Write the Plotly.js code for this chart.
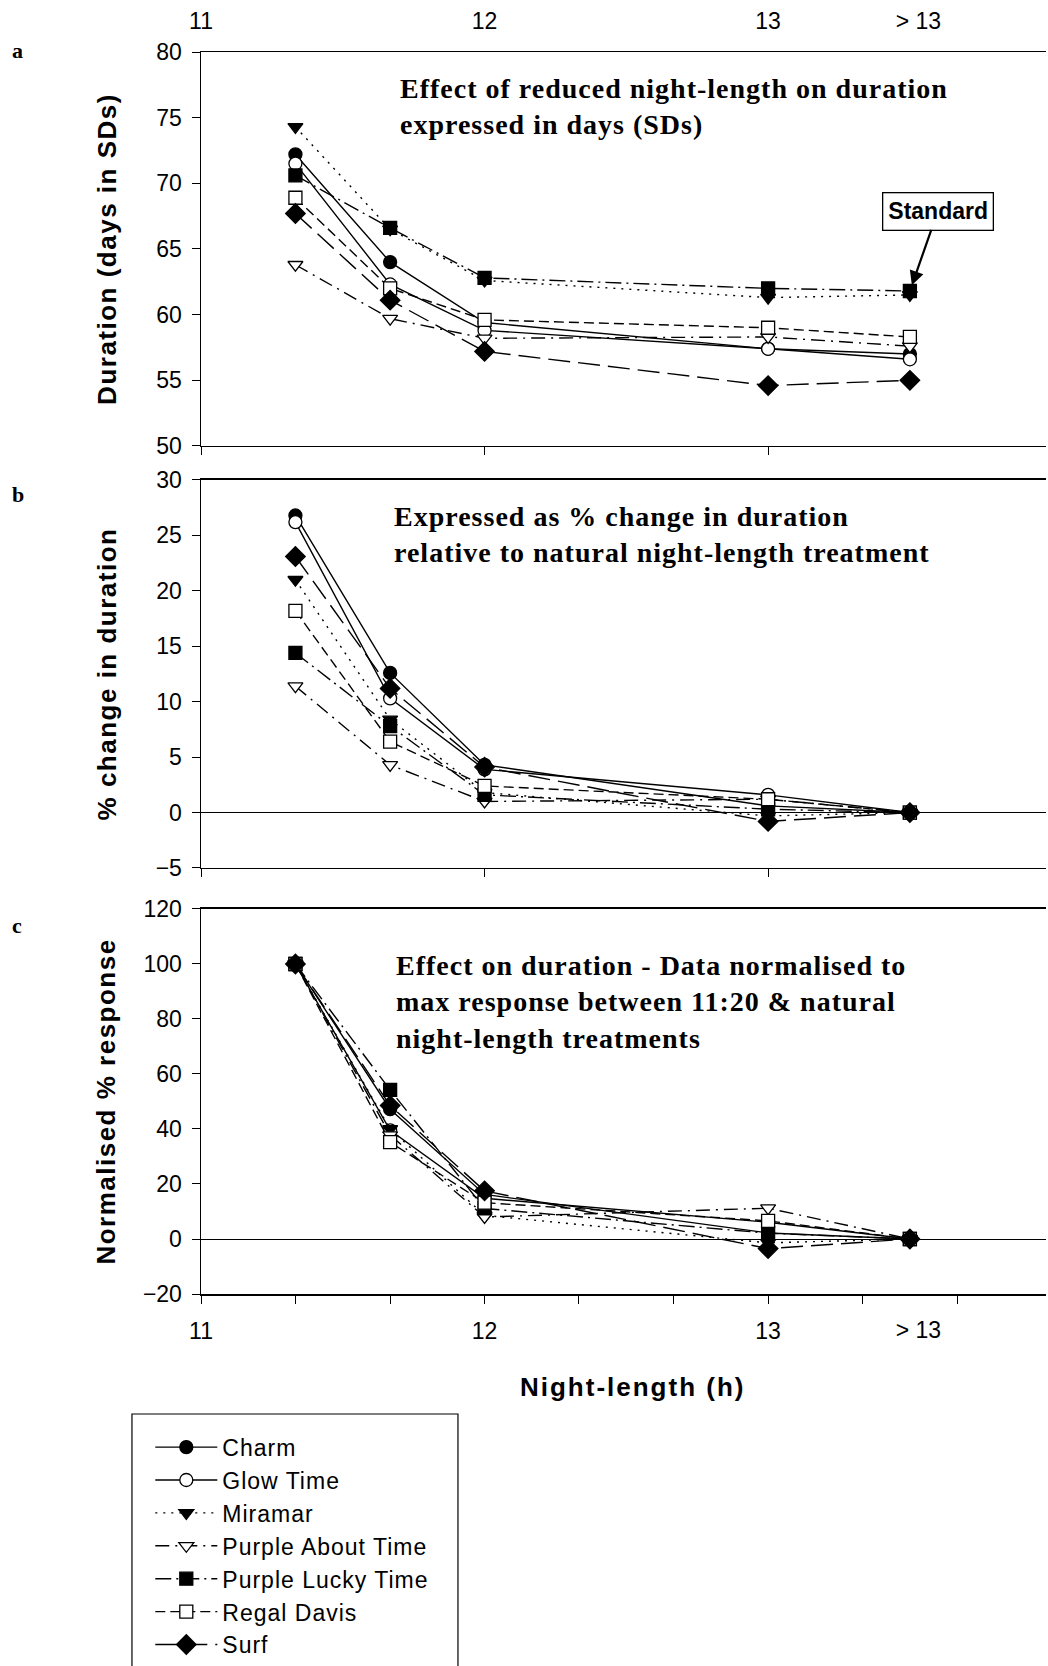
<!DOCTYPE html>
<html>
<head>
<meta charset="utf-8">
<script src="https://cdn.plot.ly/plotly-3.0.1.min.js"></script>
<style>
html,body{margin:0;padding:0;background:#fff;}
#chart{width:1048px;height:1666px;}
g.annotation[data-index="0"] text, g.annotation[data-index="1"] text, g.annotation[data-index="2"] text{letter-spacing:1px;}
.ytitle, .y2title, .y3title{letter-spacing:1.5px;}
.x3title{letter-spacing:2px;}
.legendtext{letter-spacing:1px;}
</style>
</head>
<body>
<div id="chart"></div>
<script>
// Night-length treatments (h); "> 13" = natural night-length, plotted at 13.5
const nightLength = [11.333, 11.667, 12, 13, 13.5];
const varieties = ['Charm', 'Glow Time', 'Miramar', 'Purple About Time', 'Purple Lucky Time', 'Regal Davis', 'Surf'];

// Panel a: duration (days in SDs)
const charmDays   = [72.2, 64.0, 59.4, 57.4, 57.0];
const glowDays    = [71.5, 62.3, 58.8, 57.4, 56.6];
const miramarDays = [74.3, 66.5, 62.6, 61.3, 61.5];
const pabtDays    = [63.8, 59.7, 58.2, 58.3, 57.6];
const pltDays     = [70.6, 66.6, 62.8, 62.0, 61.8];
const regalDays   = [68.9, 62.0, 59.6, 59.0, 58.3];
const surfDays    = [67.7, 61.1, 57.2, 54.6, 55.0];

// Panel b: % change in duration
const charmPct   = [26.8, 12.6, 4.3, 0.6, 0];
const glowPct    = [26.2, 10.3, 3.9, 1.6, 0];
const miramarPct = [21.0, 8.4, 1.8, -0.3, 0];
const pabtPct    = [11.4, 4.3, 1.0, 1.2, 0];
const pltPct     = [14.4, 7.8, 1.6, 0.3, 0];
const regalPct   = [18.2, 6.4, 2.4, 1.2, 0];
const surfPct    = [23.1, 11.2, 4.1, -0.8, 0];

// Panel c: normalised % response
const charmNorm   = [100, 47.2, 16.2, 2.2, 0];
const glowNorm    = [100, 39.5, 14.8, 6.1, 0];
const miramarNorm = [100, 40.0, 8.6, -1.4, 0];
const pabtNorm    = [100, 37.8, 8.0, 11.2, 0];
const pltNorm     = [100, 54.2, 11.1, 2.1, 0];
const regalNorm   = [100, 35.2, 13.2, 6.6, 0];
const surfNorm    = [100, 48.5, 17.5, -3.5, 0];

// Axis tick labels
const yTicksA = [50, 55, 60, 65, 70, 75, 80];
const yTicksB = [-5, 0, 5, 10, 15, 20, 25, 30];
const yTicksC = [-20, 0, 20, 40, 60, 80, 100, 120];
const xMainTicks = [11, 12, 13];
const xMainLabels = ['11', '12', '13'];
const xFineTicks = [11, 11.333, 11.667, 12, 12.333, 12.667, 13, 13.333, 13.667];
const xFineLabels = ['11', '', '', '12', '', '', '13', '', ''];
const xNaturalTick = [13.53];
const xNaturalLabel = ['> 13'];

const panelA = [charmDays, glowDays, miramarDays, pabtDays, pltDays, regalDays, surfDays];
const panelB = [charmPct, glowPct, miramarPct, pabtPct, pltPct, regalPct, surfPct];
const panelC = [charmNorm, glowNorm, miramarNorm, pabtNorm, pltNorm, regalNorm, surfNorm];

const styles = [
  {symbol: 'circle', fill: 'black', dash: 'solid'},
  {symbol: 'circle', fill: 'white', dash: 'solid'},
  {symbol: 'triangle-down', fill: 'black', dash: '2px,6px'},
  {symbol: 'triangle-down', fill: 'white', dash: '14px,6px,2px,6px'},
  {symbol: 'square', fill: 'black', dash: '16px,5px,2px,5px'},
  {symbol: 'square', fill: 'white', dash: '10px,5px'},
  {symbol: 'diamond', fill: 'black', dash: '22px,8px'}
];

const xRange = [11, 13.98];

const traces = [];
[[panelA, 'x', 'y', true], [panelB, 'x2', 'y2', false], [panelC, 'x3', 'y3', false]].forEach(([panel, xa, ya, leg]) => {
  panel.forEach((vals, i) => {
    const s = styles[i];
    traces.push({
      type: 'scatter', mode: 'lines+markers',
      x: nightLength, y: vals, xaxis: xa, yaxis: ya,
      name: varieties[i], legendgroup: varieties[i], showlegend: leg,
      line: {color: 'black', width: 1.4, dash: s.dash},
      marker: {symbol: s.symbol, size: s.symbol === 'diamond' ? 15 : 13, color: s.fill, line: {color: 'black', width: 1.3}}
    });
  });
});
// empty traces hosting the overlay label axes
traces.push({type: 'scatter', x: [], y: [], xaxis: 'x4', yaxis: 'y', showlegend: false, hoverinfo: 'skip'});
traces.push({type: 'scatter', x: [], y: [], xaxis: 'x5', yaxis: 'y3', showlegend: false, hoverinfo: 'skip'});

const sans = 'Liberation Sans, Arial, sans-serif';
const serif = 'Liberation Serif, Times New Roman, serif';
const tickFont = {family: sans, size: 23, color: 'black'};
const titleFont = {family: sans, size: 26, color: 'black', weight: 'bold'};

function xAxis(anchor, extra) {
  return Object.assign({
    anchor: anchor, range: xRange, showgrid: false, zeroline: false,
    showline: true, linecolor: 'black', linewidth: 1.5, mirror: true,
    tickmode: 'array', tickvals: xMainTicks, ticktext: ['', '', ''],
    ticks: 'outside', ticklen: 8, tickwidth: 1, tickcolor: 'black', tickfont: tickFont
  }, extra || {});
}
function yAxis(domain, range, vals, title, standoff, extra) {
  return Object.assign({
    domain: domain, range: range, showgrid: false,
    zeroline: true, zerolinecolor: 'black', zerolinewidth: 1,
    showline: true, linecolor: 'black', linewidth: 1.5,
    tickmode: 'array', tickvals: vals, ticks: 'outside', ticklen: 8, tickwidth: 1, tickcolor: 'black',
    tickfont: tickFont, ticklabelstandoff: 5,
    title: {text: title, font: titleFont, standoff: standoff}
  }, extra || {});
}

const layout = {
  width: 1048, height: 1666,
  margin: {l: 201, r: 2, t: 52, b: 372, autoexpand: false},
  paper_bgcolor: 'white', plot_bgcolor: 'white',
  font: {family: sans, color: 'black'},
  showlegend: true,
  legend: {x: -0.06, y: -0.106, xanchor: 'left', yanchor: 'top', bgcolor: 'rgba(0,0,0,0)', itemwidth: 62,
           font: {family: sans, size: 23, color: 'black'}, tracegroupgap: 0, traceorder: 'grouped'},
  xaxis: xAxis('y'),
  xaxis4: {overlaying: 'x', anchor: 'y', side: 'top', range: xRange, showgrid: false, zeroline: false, showline: false,
           tickmode: 'array', tickvals: xMainTicks.concat(xNaturalTick), ticktext: xMainLabels.concat(xNaturalLabel),
           ticks: '', tickfont: tickFont, ticklabelstandoff: 17},
  xaxis2: xAxis('y2'),
  xaxis3: xAxis('y3', {tickvals: xFineTicks, ticktext: xFineLabels, ticklabelstandoff: 8,
           title: {text: '&nbsp;&nbsp;Night-length (h)', font: titleFont, standoff: 34}}),
  xaxis5: {overlaying: 'x3', anchor: 'y3', side: 'bottom', range: xRange, showgrid: false, zeroline: false, showline: false,
           tickmode: 'array', tickvals: xNaturalTick, ticktext: xNaturalLabel, ticks: '', tickfont: tickFont, ticklabelstandoff: 20},
  yaxis: yAxis([0.6828, 1], [50, 80], yTicksA, 'Duration (days in SDs)', 32, {zeroline: false}),
  yaxis2: yAxis([0.343, 0.6554], [-5, 30], yTicksB, '% change in duration', 31),
  yaxis3: yAxis([0, 0.31], [-20, 120], yTicksC, 'Normalised % response', 20),
  shapes: [
    {type: 'rect', xref: 'paper', yref: 'paper', x0: -0.0817, x1: 0.3041, y0: -0.33, y1: -0.0966,
     line: {color: 'black', width: 1.2}, fillcolor: 'rgba(0,0,0,0)'}
  ],
  annotations: [
    {xref: 'paper', yref: 'paper', x: 0.2331, y: 0.9847, xanchor: 'left', yanchor: 'top', align: 'left', showarrow: false,
     text: '<b>Effect of reduced night-length on duration<br>expressed in days (SDs)</b>', font: {family: serif, size: 28, color: 'black'}},
    {xref: 'paper', yref: 'paper', x: 0.226, y: 0.6399, xanchor: 'left', yanchor: 'top', align: 'left', showarrow: false,
     text: '<b>Expressed as % change in duration<br>relative to natural night-length treatment</b>', font: {family: serif, size: 28, color: 'black'}},
    {xref: 'paper', yref: 'paper', x: 0.2284, y: 0.2788, xanchor: 'left', yanchor: 'top', align: 'left', showarrow: false,
     text: '<b>Effect on duration - Data normalised to<br>max response between 11:20 &amp; natural<br>night-length treatments</b>', font: {family: serif, size: 28, color: 'black'}},
    {xref: 'paper', yref: 'paper', x: -0.226, y: 1.0016, xanchor: 'left', yanchor: 'middle', showarrow: false,
     text: '<b>a</b>', font: {family: serif, size: 22, color: 'black'}},
    {xref: 'paper', yref: 'paper', x: -0.226, y: 0.644, xanchor: 'left', yanchor: 'middle', showarrow: false,
     text: '<b>b</b>', font: {family: serif, size: 22, color: 'black'}},
    {xref: 'paper', yref: 'paper', x: -0.226, y: 0.297, xanchor: 'left', yanchor: 'middle', showarrow: false,
     text: '<b>c</b>', font: {family: serif, size: 22, color: 'black'}},
    {xref: 'x', yref: 'y', x: nightLength[4], y: pltDays[4], ax: 28, ay: -80, text: '<b>Standard</b>',
     font: {family: sans, size: 23, color: 'black'}, bordercolor: 'black', borderwidth: 1.3, borderpad: 5, bgcolor: 'white',
     showarrow: true, arrowhead: 2, arrowsize: 1.3, arrowwidth: 2.2, arrowcolor: 'black', standoff: 6}
  ]
};

Plotly.newPlot('chart', traces, layout, {displayModeBar: false, staticPlot: true});
</script>
</body>
</html>
